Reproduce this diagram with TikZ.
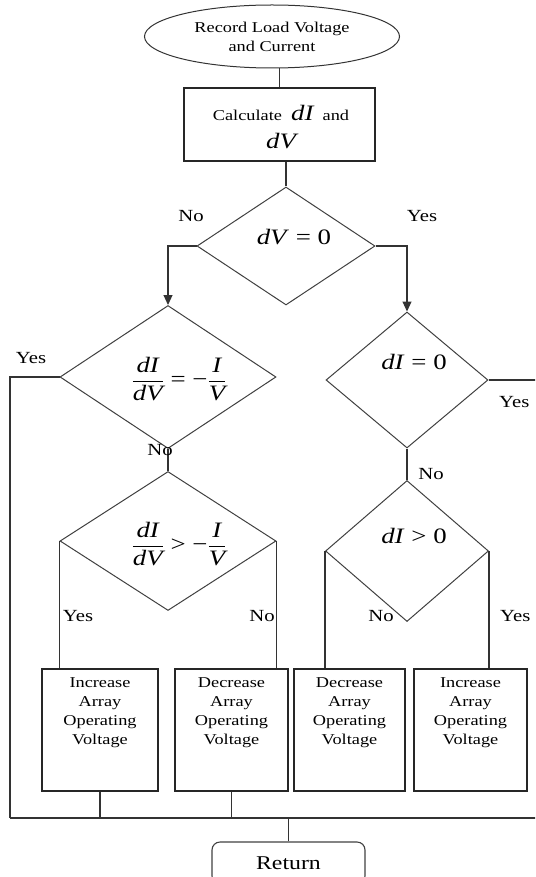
\documentclass[tikz,border=0pt]{standalone}
\usepackage{fontspec}
\setmainfont[FakeStretch=1.22]{Liberation Serif}
\usetikzlibrary{shapes.geometric,arrows.meta,calc}
\newcommand\eqi[1]{{\fontsize{22}{26}\selectfont\itshape #1}}
\newcommand\myfrac[2]{\displaystyle\frac{\textit{#1}}{\textit{#2}}}
\begin{document}
\begin{tikzpicture}[x=1pt,y=-1pt,
  line/.style={draw=black!80,line width=1.1pt},
  dia/.style={diamond,draw=black!75,line width=1pt,inner sep=0pt},
  box/.style={rectangle,draw=black!85,line width=1.1pt,inner sep=0pt,minimum height=122pt},
  boxtxt/.style={font=\fontsize{15}{19}\selectfont,align=center,anchor=north,inner sep=0pt},
  lab/.style={font=\fontsize{17}{20}\selectfont,inner sep=0pt},
  eq/.style={font=\fontsize{22}{26}\selectfont,inner sep=0pt},
  arr/.style={line,-{Triangle[length=10pt,width=9pt]}}
]
\useasboundingbox (0,0) rectangle (535,877);
\clip (0,0) rectangle (535,877);

% top
\node[ellipse,draw=black!80,line width=1pt,minimum width=255pt,minimum height=63pt,inner sep=0pt,
      font=\fontsize{15}{19}\selectfont,align=center] (start) at (272,36.5) {Record Load Voltage\\and Current};
\node[rectangle,draw=black!85,line width=1.1pt,minimum width=191pt,minimum height=73pt,inner sep=0pt] (calc) at (279.5,124.5) {};
\node[font=\fontsize{15}{19}\selectfont,inner sep=0pt] (ct1) at (281,113) {Calculate\ \ \eqi{dI}\ \ and};
\node[inner sep=0pt] (ct2) at (281,141) {\eqi{dV}};

% diamonds
\node[dia,minimum width=178pt,minimum height=118pt] (d1) at (286,246) {};
\node[eq] (t1) at (294,237) {\textit{dV} = 0};
\node[dia,minimum width=216pt,minimum height=143pt] (d2) at (168,377) {};
\node[eq] (t2) at (179,379) {$\myfrac{dI}{dV}\mbox{ = −}\myfrac{I}{V}$};
\node[dia,minimum width=162pt,minimum height=136pt] (d3) at (407,380) {};
\node[eq] (t3) at (414,362) {\textit{dI} = 0};
\node[dia,minimum width=216pt,minimum height=139pt] (d4) at (168,541) {};
\node[eq] (t4) at (179,544) {$\myfrac{dI}{dV}\mbox{ > −}\myfrac{I}{V}$};
\node[dia,minimum width=163pt,minimum height=141pt] (d5) at (407,551) {};
\node[eq] (t5) at (414,536) {\textit{dI} > 0};

% boxes
\node[box,minimum width=116pt] (b1) at (100,730) {};
\node[box,minimum width=113pt] (b2) at (231.5,730) {};
\node[box,minimum width=111pt] (b3) at (349.5,730) {};
\node[box,minimum width=113pt] (b4) at (470.5,730) {};
\node[boxtxt] (bt1) at (100,677) {Increase\\Array\\Operating\\Voltage};
\node[boxtxt] (bt2) at (231.5,677) {Decrease\\Array\\Operating\\Voltage};
\node[boxtxt] (bt3) at (349.5,677) {Decrease\\Array\\Operating\\Voltage};
\node[boxtxt] (bt4) at (470.5,677) {Increase\\Array\\Operating\\Voltage};

\node[rectangle,rounded corners=8pt,draw=black!75,line width=1.1pt,minimum width=153pt,minimum height=42pt,
      font=\fontsize{19.5}{22}\selectfont] (ret) at (288.5,863) {Return};

\coordinate (busL) at (10,818);
\coordinate (busR) at (545,818);
\coordinate (rEnd) at (545,378);

% connectors
\draw[line] (calc.north) -- (calc.north |- start.south);
\draw[line] (d1.north) -- (d1.north |- calc.south);
\draw[arr] (d1.west) -| (d2.north);
\draw[arr] (d1.east) -| (d3.north);
\draw[line] (d2.west) -| (busL);
\draw[line] (d2.south) -- (d4.north);
\draw[line] (d3.east) -- (d3.east -| rEnd);
\draw[line] (d3.south) -- (d5.north);
\draw[line] (d4.west) -- (d4.west |- b1.north);
\draw[line] (d4.east) -- (d4.east |- b2.north);
\draw[line] (d5.west) -- (d5.west |- b3.north);
\draw[line] (d5.east) -- (d5.east |- b4.north);
\draw[line] (b1.south) -- (b1.south |- busL);
\draw[line] (b2.south) -- (b2.south |- busL);
\draw[line] (busL) -- (busR);
\draw[line] (ret.north) -- (ret.north |- busL);

% labels
\node[lab] (l1) at (191,216) {No};
\node[lab] (l2) at (422,216) {Yes};
\node[lab] (l3) at (31,358) {Yes};
\node[lab] (l4) at (160,450) {No};
\node[lab,anchor=west] (l5) at (499,402) {Yes};
\node[lab] (l6) at (431,474) {No};
\node[lab] (l7) at (78,616) {Yes};
\node[lab] (l8) at (262,616) {No};
\node[lab] (l9) at (381,616) {No};
\node[lab,anchor=west] (l10) at (500,616) {Yes};
\end{tikzpicture}
\end{document}
